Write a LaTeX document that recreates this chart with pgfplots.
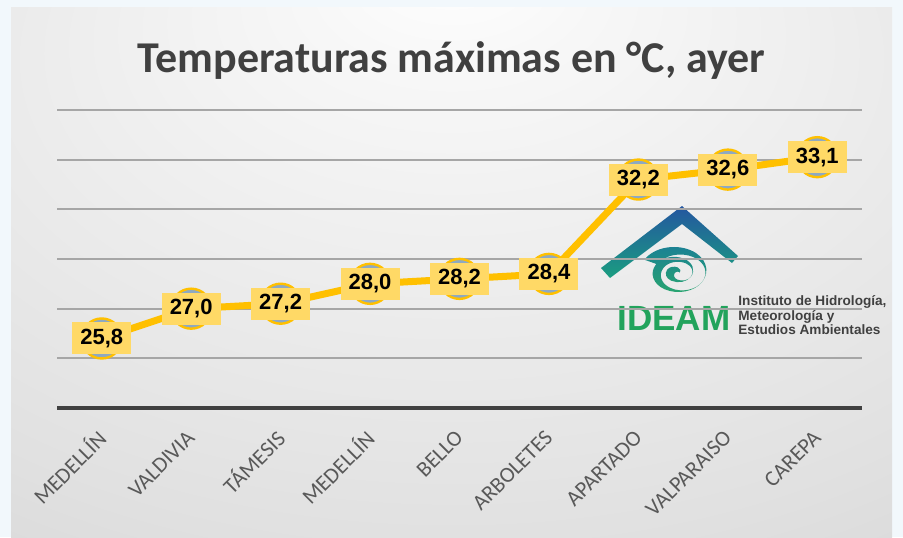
\documentclass[border=0pt]{standalone}
\usepackage{fontspec}
\setmainfont{Carlito}
\newfontfamily\arial{Liberation Sans}
\usepackage{pgfplots}
\pgfplotsset{compat=1.18}
\usepackage{pgfplotstable}
\definecolor{lineGold}{HTML}{FFC000}
\definecolor{boxGold}{HTML}{FFD966}
\definecolor{markFill}{HTML}{8EA9C1}
\definecolor{outerBg}{HTML}{F2F8FC}
\definecolor{titleGray}{HTML}{404040}
\definecolor{labGray}{HTML}{595959}
\definecolor{gridGray}{HTML}{A6A6A6}
\definecolor{baseGray}{HTML}{404040}
\definecolor{ideamGreen}{HTML}{22A35C}
\definecolor{roofBlue}{HTML}{2456A0}
\definecolor{roofGreen}{HTML}{1A9E80}
\definecolor{swirlTeal}{HTML}{1B7F96}
\definecolor{swirlGreen}{HTML}{28A66E}
\pgfdeclareradialshading{bgshade}{\pgfpoint{0bp}{30bp}}{color(0bp)=(white); color(8bp)=(white!97!black); color(40bp)=(black!12); color(60bp)=(black!19); color(75bp)=(black!25)}
\pgfplotstableread{
x y lab
0 25.8 25,8
1 27.0 27,0
2 27.2 27,2
3 28.0 28,0
4 28.2 28,2
5 28.4 28,4
6 32.2 32,2
7 32.6 32,6
8 33.1 33,1
}\datatable
\begin{document}
\begin{tikzpicture}[x=1pt,y=1pt]
\fill[outerBg] (0,0) rectangle (451.5,268.5);
\shade[shading=bgshade] (5.5,0) rectangle (446,264.5);
% title
\node[anchor=base, font=\bfseries\fontsize{22}{26}\selectfont, text=titleGray, inner sep=0] at (225.75,232.5) {Temperaturas máximas en °C, ayer};
% logo
\shade[top color=roofBlue, bottom color=roofGreen] (300.5,134.5) -- (341,165.5) -- (369,140.5) -- (366,137) -- (341,156.5) -- (305,129.5) -- cycle;
\begin{scope}[shift={(336.5,132.5)}, xscale=1.1, yscale=0.82]
\shade[top color=swirlTeal, bottom color=swirlGreen]
  (-13,7.5) arc[start angle=150, end angle=60, radius=15.5]
  arc[start angle=60, end angle=-30, radius=14]
  arc[start angle=-30, end angle=-120, radius=12.5]
  arc[start angle=-120, end angle=-210, radius=11]
  arc[start angle=150, end angle=60, radius=9.5]
  arc[start angle=60, end angle=-30, radius=8]
  arc[start angle=-30, end angle=-120, radius=6.5]
  arc[start angle=-120, end angle=-210, radius=5]
  arc[start angle=150, end angle=60, radius=3.5]
  arc[start angle=60, end angle=-30, radius=2.5]
  arc[start angle=-30, end angle=60, radius=0.5]
  arc[start angle=60, end angle=150, radius=1.5]
  arc[start angle=150, end angle=240, radius=3]
  arc[start angle=240, end angle=330, radius=4.5]
  arc[start angle=-30, end angle=60, radius=6]
  arc[start angle=60, end angle=150, radius=7.5]
  arc[start angle=150, end angle=240, radius=9]
  arc[start angle=240, end angle=330, radius=10.5]
  arc[start angle=-30, end angle=60, radius=11]
  arc[start angle=60, end angle=150, radius=12]
  -- cycle;
\end{scope}
\node[anchor=base west, inner sep=0, font=\arial\bfseries\fontsize{17.5}{20}\selectfont, text=ideamGreen] at (308.5,103.5) {IDEAM};
\node[anchor=north west, inner sep=0, align=left, font=\arial\bfseries\fontsize{6.8}{6}\selectfont, text=titleGray] at (369,121) {Instituto de Hidrología,\\Meteorología y\\Estudios Ambientales};
\begin{axis}[
  at={(28.5pt,64.5pt)}, anchor=south west,
  scale only axis, width=402.5pt, height=149pt,
  xmin=-0.5, xmax=8.5, ymin=23, ymax=35,
  axis line style={draw=none},
  major tick length=0pt,
  xtick={0,...,8},
  xticklabels={MEDELLÍN,VALDIVIA,TÁMESIS,MEDELLÍN,BELLO,ARBOLETES,APARTADO,VALPARAISO,CAREPA},
  xticklabel style={rotate=45, anchor=east, inner sep=0pt, font=\fontsize{11}{13}\selectfont, text=labGray},
  xticklabel shift=13pt,
  ytick={25,27,...,35}, yticklabels={},
  ymajorgrids, grid style={draw=gridGray, line width=1pt},
  extra y ticks={23}, extra y tick labels={},
  extra y tick style={grid style={draw=baseGray, line width=1.6pt}},
  clip=false,
]
\addplot[draw=lineGold, line width=3.5pt, line join=round,
  mark=*, mark size=10pt, mark options={fill=markFill, draw=lineGold, line width=1.2pt},
  nodes near coords, point meta=explicit symbolic,
  nodes near coords align={center},
  every node near coord/.append style={anchor=center, fill=boxGold, text=black,
    font=\arial\bfseries\fontsize{11}{12}\selectfont,
    minimum width=29.5pt, minimum height=16pt, inner sep=0pt}
] table[x=x, y=y, meta=lab] {\datatable};
\end{axis}
\end{tikzpicture}
\end{document}
